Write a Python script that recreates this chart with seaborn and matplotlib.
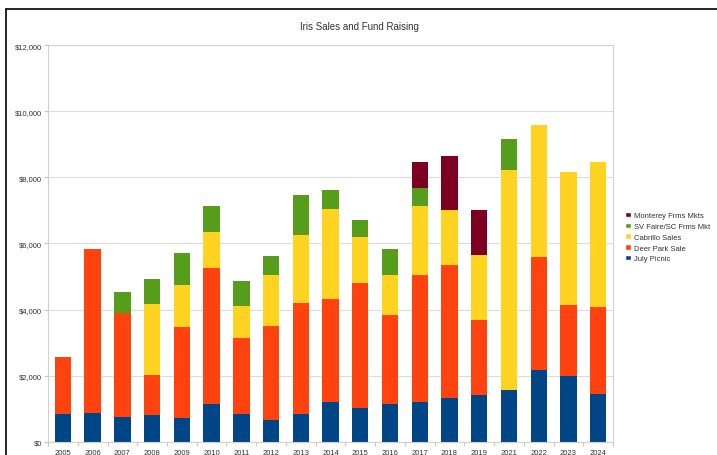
import matplotlib
matplotlib.use("Agg")
import matplotlib.pyplot as plt
import matplotlib.ticker as mticker
from matplotlib.lines import Line2D
from matplotlib.patches import Patch
import numpy as np
import seaborn as sns

years = ["2005", "2006", "2007", "2008", "2009", "2010", "2011", "2012", "2013", "2014",
         "2015", "2016", "2017", "2018", "2019", "2021", "2022", "2023", "2024"]

july_picnic = [850, 870, 750, 820, 710, 1130, 830, 650, 850, 1210,
               1020, 1130, 1210, 1320, 1420, 1570, 2170, 1990, 1450]
deer_park = [1710, 4950, 3160, 1210, 2760, 4140, 2320, 2850, 3360, 3120,
             3780, 2690, 3820, 4030, 2250, 0, 3430, 2160, 2620]
cabrillo = [0, 0, 0, 2130, 1280, 1080, 960, 1530, 2050, 2720,
            1390, 1210, 2090, 1670, 1990, 6650, 3980, 4000, 4380]
sv_faire = [0, 0, 630, 770, 960, 770, 760, 600, 1190, 580,
            530, 790, 570, 0, 0, 930, 0, 0, 0]
monterey = [0, 0, 0, 0, 0, 0, 0, 0, 0, 0,
            0, 0, 760, 1610, 1340, 0, 0, 0, 0]

series = [
    ("July Picnic", july_picnic, "#004586"),
    ("Deer Park Sale", deer_park, "#ff420e"),
    ("Cabrillo Sales", cabrillo, "#ffd320"),
    ("SV Faire/SC Frms Mkt", sv_faire, "#579d1c"),
    ("Monterey Frms Mkts", monterey, "#7e0021"),
]


def main():
    sns.set_style("white")
    plt.rcParams["font.family"] = ["Liberation Sans", "DejaVu Sans"]

    fig = plt.figure(figsize=(7.17, 4.56), dpi=100)
    ax = fig.add_axes([0.067, 0.029, 0.788, 0.870])

    bottom = np.zeros(len(years))
    for name, vals, col in series:
        sns.barplot(x=years, y=vals, bottom=bottom, color=col, width=0.55,
                    saturation=1, ax=ax, linewidth=0, order=years)
        bottom = bottom + np.array(vals)

    ax.set_xlim(-0.5, len(years) - 0.5)
    ax.set_ylim(0, 12000)
    ax.yaxis.set_major_locator(mticker.MultipleLocator(2000))
    ax.yaxis.set_major_formatter(mticker.StrMethodFormatter("${x:,.0f}"))
    ax.grid(axis="y", color="#dcdcdc", linewidth=0.8)
    ax.set_axisbelow(True)
    for s in ax.spines.values():
        s.set_color("#d0d0d0")
        s.set_linewidth(0.8)

    ax.set_xticks(np.arange(len(years)))
    ax.set_xticks(np.arange(len(years) + 1) - 0.5, minor=True)
    ax.tick_params(axis="x", which="major", length=0, pad=5, labelsize=5.5, labelcolor="#333333")
    ax.tick_params(axis="x", which="minor", length=3, color="#c8c8c8", width=0.8, direction="out", bottom=True)
    ax.tick_params(axis="y", length=3, color="#c8c8c8", width=0.8, direction="out", left=True,
                   pad=1.5, labelsize=5.5, labelcolor="#333333")
    ax.set_xlabel("")
    ax.set_ylabel("")

    fig.text(0.502, 0.941, "Iris Sales and Fund Raising", ha="center", va="center",
             fontsize=7, color="#333333")

    handles = [Patch(facecolor=col, label=name) for name, vals, col in reversed(series)]
    fig.legend(handles=handles, loc="upper left", bbox_to_anchor=(0.868, 0.540),
               frameon=False, fontsize=5.5, handlelength=0.7, handleheight=0.7,
               handletextpad=0.4, labelspacing=0.45, borderaxespad=0, labelcolor="#333333")

    # screenshot frame lines on top and left
    fig.add_artist(Line2D([0.009, 1.0], [0.977, 0.977], color="black", linewidth=1.2,
                          transform=fig.transFigure))
    fig.add_artist(Line2D([0.009, 0.009], [0.0, 0.977], color="black", linewidth=1.2,
                          transform=fig.transFigure))

    fig.savefig("out.png", dpi=100)


if __name__ == "__main__":
    main()
